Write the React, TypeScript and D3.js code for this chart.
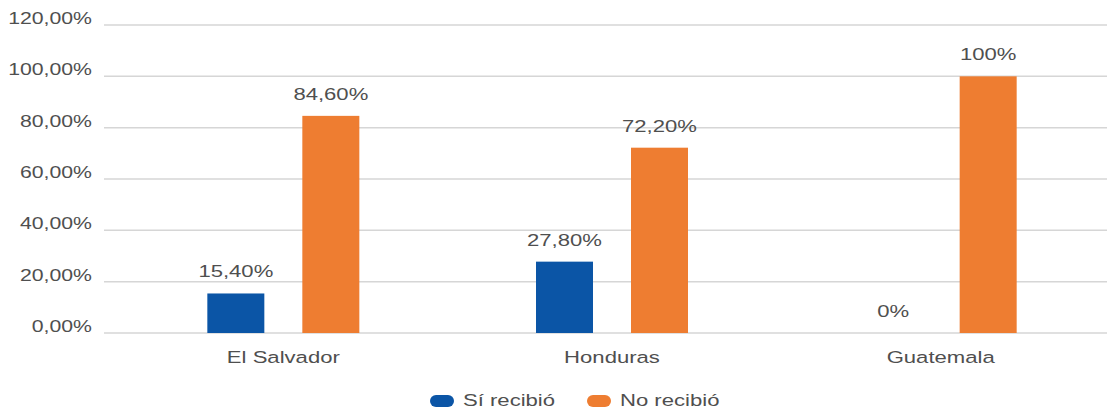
import React from "react";
import * as d3 from "d3";

const categories = ["El Salvador", "Honduras", "Guatemala"];
const seriesNames = ["Sí recibió", "No recibió"];
const siRecibio = [15.4, 27.8, 0];
const noRecibio = [84.6, 72.2, 100];
const valueLabelsSi = ["15,40%", "27,80%", "0%"];
const valueLabelsNo = ["84,60%", "72,20%", "100%"];
const yTicks = [0, 20, 40, 60, 80, 100, 120];
const yTickLabels = ["0,00%", "20,00%", "40,00%", "60,00%", "80,00%", "100,00%", "120,00%"];
const colors = ["#0B55A6", "#EE7D31"];

const W = 1107;
const H = 409;
const FONT = "'Liberation Sans', Arial, sans-serif";
const TEXT = "#4f4f4f";

function T({ x, y, anchor, children, size = 17, sx = 1.3 }: { x: number; y: number; anchor: string; children: React.ReactNode; size?: number; sx?: number }) {
  return (
    <text
      transform={`translate(${x},${y}) scale(${sx},1)`}
      textAnchor={anchor as any}
      fontFamily={FONT}
      fontSize={size}
      fill={TEXT}
    >
      {children}
    </text>
  );
}

export default function App() {
  const y = d3.scaleLinear().domain([0, 120]).range([333, 25]);
  const x0 = d3.scaleBand<string>().domain(categories).range([119, 1105]).paddingInner(0).paddingOuter(0);
  const x1 = d3.scaleBand<string>().domain(seriesNames).range([0, 152]).paddingInner(0.4).paddingOuter(0);
  const series = [siRecibio, noRecibio];
  const labels = [valueLabelsSi, valueLabelsNo];

  return (
    <svg width={W} height={H} style={{ position: "absolute", left: 0, top: 0, background: "#fff" }}>
      {yTicks.map((t, i) => (
        <g key={t}>
          <line x1={104} x2={1107} y1={y(t)} y2={y(t)} stroke="#d6d6d6" strokeWidth={1.5} />
          <T x={92} y={y(t) - 1} anchor="end" sx={1.25}>{yTickLabels[i]}</T>
        </g>
      ))}
      {categories.map((c, ci) => {
        const gx = x0(c)! + x0.bandwidth() / 2 - 76;
        return (
          <g key={c}>
            {series.map((s, si) => {
              const bx = gx + x1(seriesNames[si])!;
              const v = s[ci];
              return (
                <g key={si}>
                  {v > 0 && (
                    <rect x={bx} y={y(v)} width={x1.bandwidth()} height={y(0) - y(v)} fill={colors[si]} />
                  )}
                  <T x={bx + x1.bandwidth() / 2} y={y(v) - 16} anchor="middle">{labels[si][ci]}</T>
                </g>
              );
            })}
            <T x={x0(c)! + x0.bandwidth() / 2} y={363} anchor="middle">{c}</T>
          </g>
        );
      })}
      {seriesNames.map((n, i) => {
        const lx = i === 0 ? 430 : 587;
        return (
          <g key={n}>
            <rect x={lx} y={395} width={24} height={12} rx={6} ry={6} fill={colors[i]} />
            <T x={lx + 33} y={406} anchor="start">{n}</T>
          </g>
        );
      })}
    </svg>
  );
}
